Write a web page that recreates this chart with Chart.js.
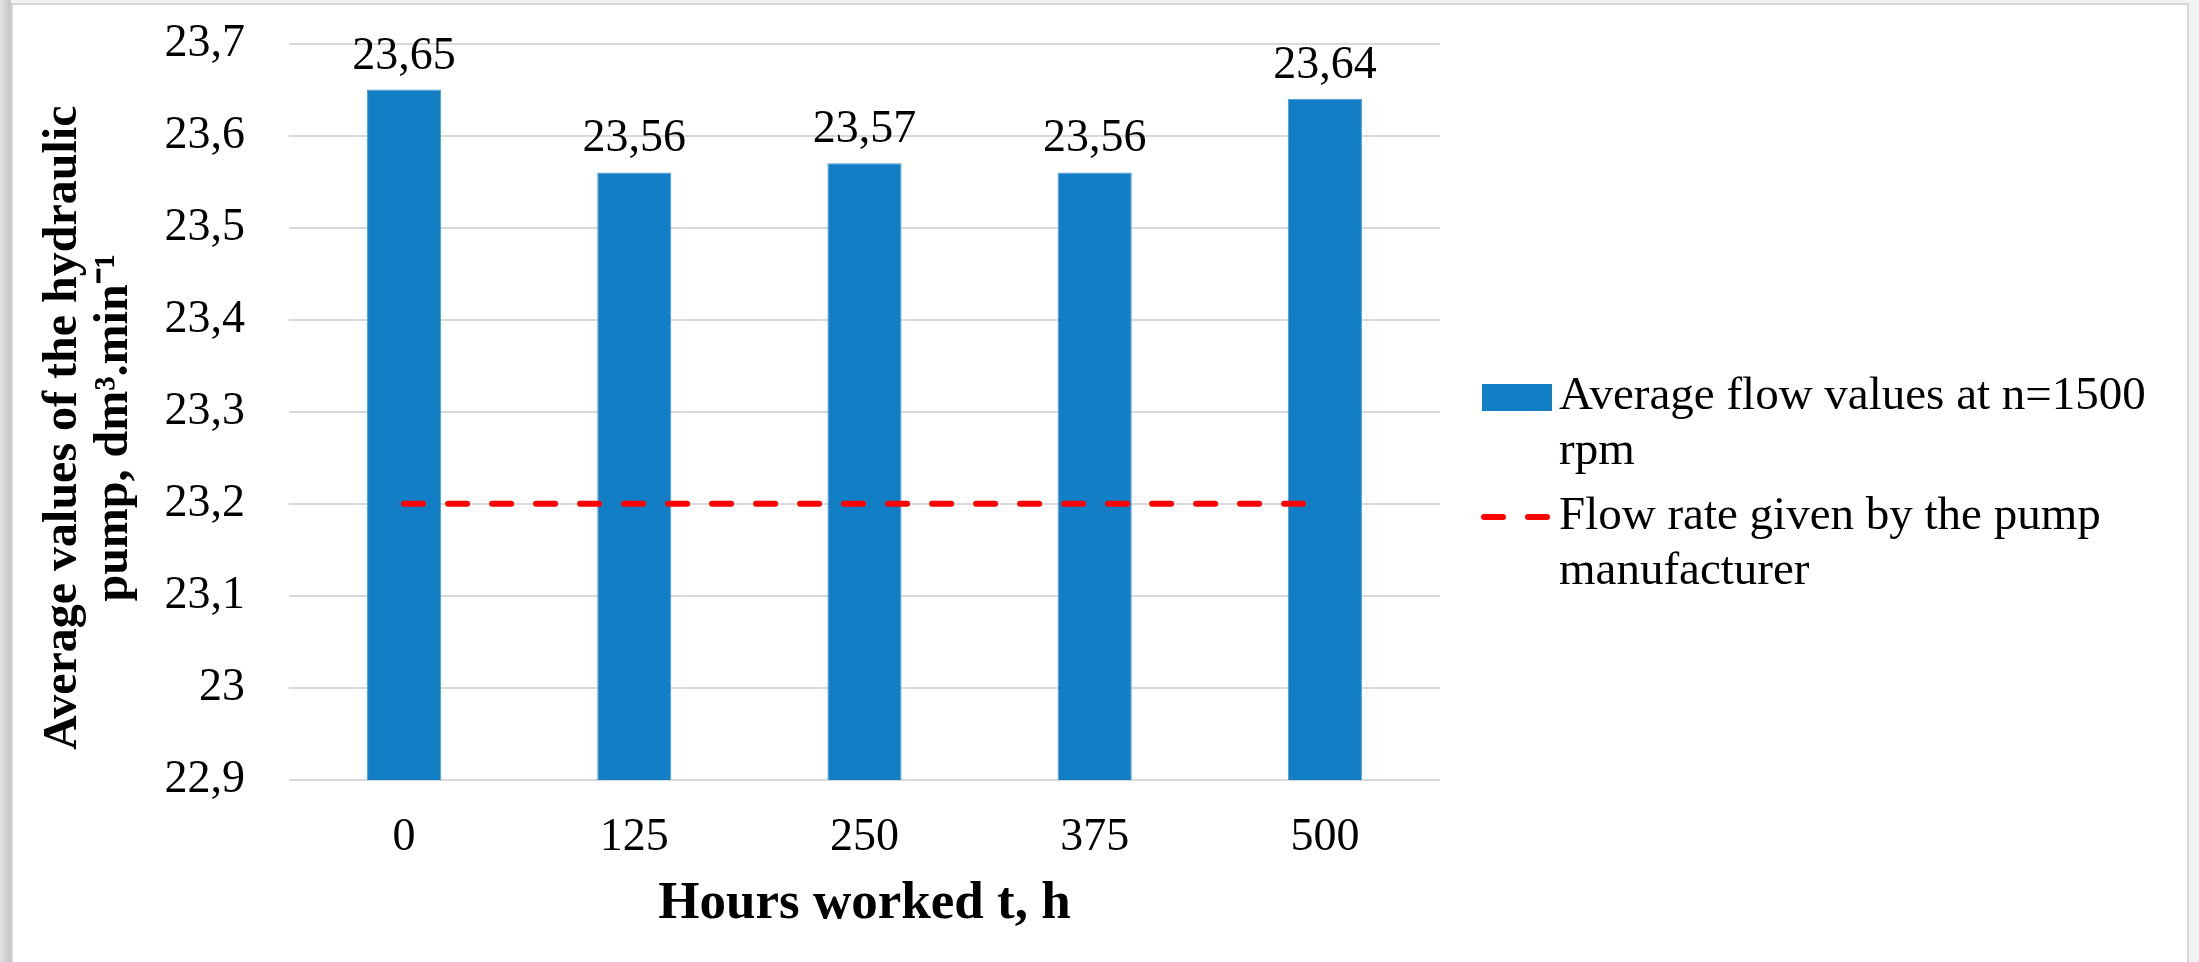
<!DOCTYPE html>
<html>
<head>
<meta charset="utf-8">
<script src="https://cdn.jsdelivr.net/npm/chart.js@4.4.1/dist/chart.umd.min.js"></script>
<style>
  html, body { margin: 0; padding: 0; width: 2199px; height: 962px; overflow: hidden; background: #f2f2f2; }
  #edge { position: absolute; left: 0; top: 0; width: 11px; height: 962px; background: linear-gradient(to right, #e2e2e2, #c4c4c4); }
  #frame { position: absolute; left: 11px; top: 3px; width: 2174px; height: 980px; background: #ffffff; border: 2px solid #d6d6d6; }
  #chart { position: absolute; left: 0; top: 0; }
</style>
</head>
<body>
<div id="edge"></div>
<div id="frame"></div>
<canvas id="chart" width="2199" height="962"></canvas>
<script>
// Hours worked by the pump (x categories)
const hoursWorked = ['0', '125', '250', '375', '500'];
// Measured average flow at n = 1500 rpm, dm3/min
const flowValues = [23.65, 23.56, 23.57, 23.56, 23.64];
// Nominal flow stated by the manufacturer, dm3/min
const manufacturerFlow = [23.2, 23.2, 23.2, 23.2, 23.2];
// Value axis range and step
const yMin = 22.9;
const yMax = 23.7;
const yStep = 0.1;

const seriesNames = ['Average flow values at n=1500 rpm', 'Flow rate given by the pump manufacturer'];
const yTitleLines = ['Average values of the hydraulic', 'pump, dm\u00B3.min\u207B\u00B9'];
const xTitle = 'Hours worked t, h';

const SERIF = '"Liberation Serif", "Times New Roman", serif';
const BAR_BLUE = '#117ec6';
const LINE_RED = '#ff0000';

function commaNumber(v, digits) {
  const s = digits === undefined ? String(Math.round(v * 10) / 10) : v.toFixed(digits);
  return s.replace('.', ',');
}

// Value labels above each bar, positioned from the bar elements
const valueLabels = {
  id: 'valueLabels',
  afterDatasetsDraw(chart) {
    const meta = chart.getDatasetMeta(0);
    const ctx = chart.ctx;
    ctx.save();
    ctx.font = '46px ' + SERIF;
    ctx.fillStyle = '#000';
    ctx.textAlign = 'center';
    ctx.textBaseline = 'alphabetic';
    meta.data.forEach((bar, i) => {
      ctx.fillText(commaNumber(flowValues[i], 2), bar.x, bar.y - 21);
    });
    ctx.restore();
  }
};

// Wrapped legend on the right-hand side
const sideLegend = {
  id: 'sideLegend',
  afterDraw(chart) {
    const ctx = chart.ctx;
    const area = chart.chartArea;
    const boxX = area.right + 42;
    const boxW = 70;
    const textX = boxX + boxW + 7;
    const maxTextW = 615;
    const lineH = 55;
    let y = 397;
    ctx.save();
    ctx.font = '47px ' + SERIF;
    ctx.textBaseline = 'middle';
    ctx.textAlign = 'left';
    chart.data.datasets.forEach((ds) => {
      // wrap the label into lines that fit the legend width
      const words = ds.label.split(' ');
      const lines = [];
      let cur = '';
      words.forEach(w => {
        const test = cur ? cur + ' ' + w : w;
        if (cur && ctx.measureText(test).width > maxTextW) { lines.push(cur); cur = w; }
        else cur = test;
      });
      if (cur) lines.push(cur);

      if (ds.type === 'line') {
        ctx.strokeStyle = ds.borderColor;
        ctx.lineWidth = ds.borderWidth;
        ctx.lineCap = 'round';
        ctx.setLineDash(ds.borderDash);
        ctx.beginPath();
        ctx.moveTo(boxX + 2, y);
        ctx.lineTo(boxX + boxW - 5, y);
        ctx.stroke();
        ctx.setLineDash([]);
      } else {
        ctx.fillStyle = ds.backgroundColor;
        ctx.fillRect(boxX, y - 13, boxW, 27);
      }
      ctx.fillStyle = '#000';
      lines.forEach((ln, k) => ctx.fillText(ln, textX, y + k * lineH));
      y += lines.length * lineH + 10;
    });
    ctx.restore();
  }
};

new Chart(document.getElementById('chart'), {
  data: {
    labels: hoursWorked,
    datasets: [
      {
        type: 'bar',
        label: seriesNames[0],
        data: flowValues,
        backgroundColor: BAR_BLUE,
        borderColor: '#4b9bd6',
        borderWidth: 1,
        barPercentage: 0.322,
        categoryPercentage: 1,
        order: 1
      },
      {
        type: 'line',
        label: seriesNames[1],
        data: manufacturerFlow,
        borderColor: LINE_RED,
        borderWidth: 6,
        borderDash: [19, 25],
        borderCapStyle: 'round',
        pointRadius: 0,
        fill: false,
        order: 0
      }
    ]
  },
  options: {
    responsive: false,
    animation: false,
    devicePixelRatio: 1,
    layout: { padding: { top: 43.5, right: 759, bottom: 0, left: 0 } },
    plugins: {
      legend: { display: false },
      tooltip: { enabled: false },
      title: { display: false }
    },
    scales: {
      x: {
        grid: { display: false, drawTicks: false },
        border: { display: false },
        ticks: { color: '#000', font: { family: SERIF, size: 46 }, padding: 30 },
        title: {
          display: true,
          text: xTitle,
          color: '#000',
          font: { family: SERIF, size: 53, weight: 'bold' },
          padding: { top: 0, bottom: 26 }
        },
        afterFit(scale) { scale.height = 182; }
      },
      y: {
        min: yMin,
        max: yMax,
        grid: { color: '#d9d9d9', lineWidth: 2, drawTicks: false },
        border: { display: false },
        ticks: {
          stepSize: yStep,
          color: '#000',
          font: { family: SERIF, size: 46 },
          padding: 44,
          callback: (v) => commaNumber(v)
        },
        title: {
          display: true,
          // trailing spacing nudges the centred block slightly toward the axis bottom
          text: yTitleLines.map(s => s + '  \u2006'),
          align: 'center',
          color: '#000',
          font: { family: SERIF, size: 48, weight: 'bold', lineHeight: 1.0625 },
          padding: { top: 38, bottom: 0 }
        },
        afterFit(scale) {
          scale.width = 289;
          // the plot top is set by layout padding alone
          scale.paddingTop = 0;
          scale.paddingBottom = 0;
        }
      }
    }
  },
  plugins: [valueLabels, sideLegend]
});
</script>
</body>
</html>
